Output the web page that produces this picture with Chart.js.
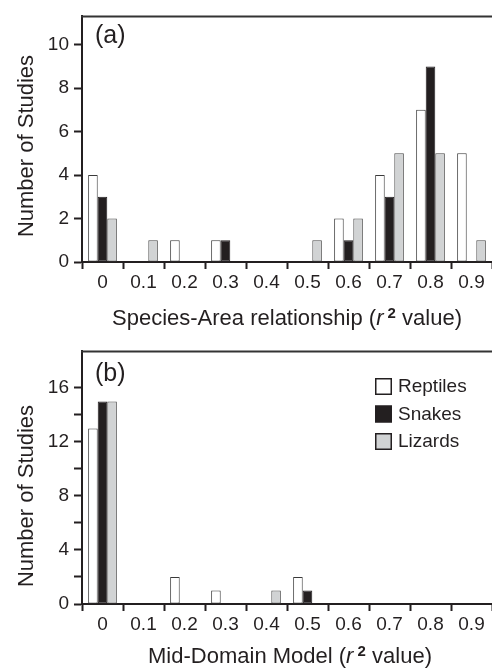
<!DOCTYPE html>
<html>
<head>
<meta charset="utf-8">
<script src="https://cdn.jsdelivr.net/npm/chart.js@4.4.1/dist/chart.umd.min.js"></script>
<style>
  html, body { margin: 0; padding: 0; background: #fff; }
  #wrap { position: relative; width: 492px; height: 671px; overflow: hidden; }
  canvas { position: absolute; left: 0; }
</style>
</head>
<body>
<div id="wrap">
  <canvas id="graficoA" width="492" height="335" style="top:0"></canvas>
  <canvas id="graficoB" width="492" height="336" style="top:335px"></canvas>
</div>
<script>
// Categorías (valor r2) y series
const categorias = ["0", "0.1", "0.2", "0.3", "0.4", "0.5", "0.6", "0.7", "0.8", "0.9"];
const nombresSeries = ["Reptiles", "Snakes", "Lizards"];

// (a) Species-Area relationship
const reptilesA = [4, 0, 1, 1, 0, 0, 2, 4, 7, 5];
const snakesA = [3, 0, 0, 1, 0, 0, 1, 3, 9, 0];
const lizardsA = [2, 1, 0, 0, 0, 1, 2, 5, 5, 1];

// (b) Mid-Domain Model
const reptilesB = [13, 0, 2, 1, 0, 2, 0, 0, 0, 0];
const snakesB = [15, 0, 0, 0, 0, 1, 0, 0, 0, 0];
const lizardsB = [15, 0, 0, 0, 1, 0, 0, 0, 0, 0];

// Marcas con etiqueta en el eje y
const etiquetasYA = [0, 2, 4, 6, 8, 10];
const etiquetasYB = [0, 4, 8, 12, 16];

const FUENTE = '"Liberation Sans", Arial, Helvetica, sans-serif';
const NEGRO = "#231f20";
const rellenos = ["#ffffff", "#231f20", "#d1d3d4"];
const bordes = ["#3a3a3a", "#231f20", "#4a4a4a"];

function crearDatasets(valores) {
  return valores.map((serie, i) => ({
    label: nombresSeries[i],
    data: serie,
    backgroundColor: rellenos[i],
    borderColor: bordes[i],
    borderWidth: (c) => (c.raw ? 1 : 0),
    borderSkipped: false,
    barPercentage: 1.0,
    categoryPercentage: 0.7,
  }));
}

// Dibuja el título del eje x con r en cursiva y 2 en superíndice
function tituloX(ctx, partes, cx, baseY) {
  let ancho = 0;
  partes.forEach((p) => {
    ctx.font = p.font;
    ancho += ctx.measureText(p.text).width;
  });
  let x = cx - ancho / 2;
  ctx.fillStyle = NEGRO;
  ctx.textBaseline = "alphabetic";
  ctx.textAlign = "left";
  partes.forEach((p) => {
    ctx.font = p.font;
    ctx.fillText(p.text, x, baseY + (p.dy || 0));
    x += ctx.measureText(p.text).width;
  });
}

function partesTitulo(texto) {
  return [
    { text: texto + " (", font: `22px ${FUENTE}` },
    { text: "r", font: `italic 22px ${FUENTE}` },
    { text: " 2", font: `bold 15px ${FUENTE}`, dy: -7 },
    { text: " value)", font: `22px ${FUENTE}` },
  ];
}

function pluginDecoraciones(opc) {
  return {
    id: "decoraciones",
    afterDraw(chart) {
      const ctx = chart.ctx;
      const area = chart.chartArea;
      ctx.save();
      // línea superior del marco
      ctx.strokeStyle = "#333";
      ctx.lineWidth = 2;
      ctx.beginPath();
      ctx.moveTo(area.left - 1, area.top);
      ctx.lineTo(area.right, area.top);
      ctx.stroke();

      // etiqueta del panel
      ctx.fillStyle = NEGRO;
      ctx.font = `25px ${FUENTE}`;
      ctx.textAlign = "left";
      ctx.textBaseline = "middle";
      ctx.fillText(opc.panel, 95, opc.panelY);

      // título del eje y
      ctx.save();
      ctx.translate(33, opc.yTituloY);
      ctx.rotate(-Math.PI / 2);
      ctx.font = `22px ${FUENTE}`;
      ctx.textAlign = "center";
      ctx.textBaseline = "alphabetic";
      ctx.fillText("Number of Studies", 0, 0);
      ctx.restore();

      // título del eje x
      tituloX(ctx, partesTitulo(opc.xTitulo), opc.xTituloX, opc.xTituloBase);

      // leyenda
      if (opc.leyenda) {
        chart.data.datasets.forEach((ds, i) => {
          const y = opc.leyenda.y + i * 27.5;
          ctx.fillStyle = ds.backgroundColor;
          ctx.fillRect(opc.leyenda.x, y, 17, 17);
          ctx.strokeStyle = "#231f20";
          ctx.lineWidth = 1.5;
          ctx.strokeRect(opc.leyenda.x + 0.75, y + 0.75, 15.5, 15.5);
          ctx.fillStyle = NEGRO;
          ctx.font = `19px ${FUENTE}`;
          ctx.textAlign = "left";
          ctx.textBaseline = "middle";
          ctx.fillText(ds.label, opc.leyenda.x + 23, y + 9);
        });
      }
      ctx.restore();
    },
  };
}

function crearGrafico(id, datos, opc) {
  const ctx = document.getElementById(id).getContext("2d");
  return new Chart(ctx, {
    type: "bar",
    data: { labels: categorias, datasets: crearDatasets(datos) },
    options: {
      responsive: false,
      animation: false,
      layout: { padding: { top: opc.top, right: 0, left: 0, bottom: 0 } },
      plugins: { legend: { display: false }, tooltip: { enabled: false } },
      scales: {
        x: {
          afterFit: (s) => { s.height = opc.xAlto; },
          ticks: { font: { family: FUENTE, size: 19 }, color: NEGRO, padding: 2, maxRotation: 0 },
          grid: { drawOnChartArea: false, drawTicks: true, tickLength: 7, tickWidth: 2, tickColor: NEGRO, offset: true },
          border: { display: true, color: NEGRO, width: 2 },
        },
        y: {
          min: 0,
          max: opc.maxY,
          afterFit: (s) => { s.width = 82; },
          afterBuildTicks: (s) => {
            s.ticks = s.ticks.filter((t) => Number.isInteger(t.value) && t.value <= opc.ultimoTick && t.value % opc.paso === 0);
          },
          ticks: {
            stepSize: opc.paso,
            includeBounds: false,
            font: { family: FUENTE, size: 19 },
            color: NEGRO,
            padding: 5,
            callback: (v) => (opc.etiquetas.includes(v) ? v : ""),
          },
          grid: { drawOnChartArea: false, drawTicks: true, tickLength: 8, tickWidth: 2, tickColor: NEGRO },
          border: { display: true, color: NEGRO, width: 2 },
        },
      },
    },
    plugins: [pluginDecoraciones(opc)],
  });
}

crearGrafico("graficoA", [reptilesA, snakesA, lizardsA], {
  top: 8, xAlto: 73, maxY: 11.3, ultimoTick: 10, paso: 1, etiquetas: etiquetasYA,
  panel: "(a)", panelY: 36, yTituloY: 146,
  xTitulo: "Species-Area relationship", xTituloX: 287, xTituloBase: 325,
});

crearGrafico("graficoB", [reptilesB, snakesB, lizardsB], {
  top: 16, xAlto: 67, maxY: 18.7, ultimoTick: 16, paso: 2, etiquetas: etiquetasYB,
  panel: "(b)", panelY: 39, yTituloY: 161,
  xTitulo: "Mid-Domain Model", xTituloX: 290, xTituloBase: 328,
  leyenda: { x: 375, y: 43 },
});
</script>
</body>
</html>
